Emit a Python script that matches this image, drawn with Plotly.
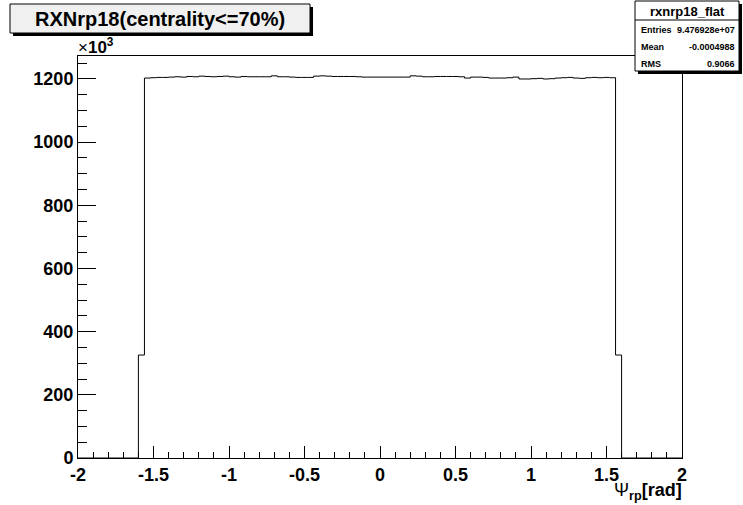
import plotly.graph_objects as go

# ---------------- data (counts in units of 10^3) ----------------
bin_low = -2.0
bin_width = 0.04
edge_counts = [326, 326]  # partially filled bins at -1.6..-1.56 and 1.56..1.6
flat_counts = [
    1203, 1204, 1205, 1205, 1206, 1207, 1206, 1208, 1207, 1209, 1208, 1207, 1208, 1209, 1207, 1206, 1208, 1207,
    1207, 1207, 1207, 1210, 1207, 1207, 1206, 1205, 1205, 1205, 1209, 1210, 1209, 1208, 1208, 1208, 1208, 1207,
    1206, 1206, 1206, 1206, 1206, 1206,
    1206, 1206, 1210, 1209, 1207, 1207, 1208, 1208, 1208, 1208, 1207, 1203, 1206, 1206, 1205, 1203, 1203, 1203,
    1204, 1206, 1200, 1200, 1201, 1202, 1200,
    1201, 1203, 1204, 1205, 1203, 1202, 1204, 1205, 1204, 1205, 1204,
]
empty_left = [0] * 10
empty_right = [0] * 10
counts = empty_left + [edge_counts[0]] + flat_counts + [edge_counts[1]] + empty_right

x_tickvals = [-2, -1.5, -1, -0.5, 0, 0.5, 1, 1.5, 2]
x_ticktext = ["-2", "-1.5", "-1", "-0.5", "0", "0.5", "1", "1.5", "2"]
y_tickvals = [0, 200, 400, 600, 800, 1000, 1200]
y_ticktext = ["0", "200", "400", "600", "800", "1000", "1200"]

title_text = "RXNrp18(centrality<=70%)"
stats_name = "rxnrp18_flat"
stats_rows = [("Entries", "9.476928e+07"), ("Mean", "-0.0004988"), ("RMS", "0.9066")]

# ---------------- figure ----------------
W, H = 743, 505
edges = [bin_low + i * bin_width for i in range(len(counts) + 1)]
ys = counts + [counts[-1]]

FONT = "Liberation Sans"


def px(x):
    return x / W


def py(y):
    return 1 - y / H


fig = go.Figure()
fig.add_trace(go.Scatter(x=edges, y=ys, mode="lines", line=dict(shape="hv", color="black", width=1),
                         hoverinfo="skip", showlegend=False))

fig.update_layout(
    width=W, height=H,
    margin=dict(l=0, r=0, t=0, b=0, autoexpand=False),
    paper_bgcolor="white", plot_bgcolor="white",
    font=dict(family=FONT, color="black"),
    xaxis=dict(domain=[px(78), px(682)], range=[-2, 2], showgrid=False, zeroline=False, automargin=False,
               showline=True, linecolor="black", linewidth=1, mirror=True,
               ticks="inside", ticklen=12, tickcolor="black", tickwidth=1,
               tickvals=x_tickvals, ticktext=x_ticktext,
               tickfont=dict(family=FONT, size=18, weight="bold"),
               minor=dict(ticks="inside", ticklen=6, dtick=0.1, tick0=0, tickcolor="black", showgrid=False)),
    yaxis=dict(domain=[py(458), py(56)], range=[0, 1272.8], showgrid=False, zeroline=False, automargin=False,
               showline=True, linecolor="black", linewidth=1, mirror=True,
               ticks="inside", ticklen=18, tickcolor="black", tickwidth=1,
               tickvals=y_tickvals, ticktext=y_ticktext,
               tickfont=dict(family=FONT, size=18, weight="bold"),
               minor=dict(ticks="inside", ticklen=9, dtick=50, tick0=0, tickcolor="black", showgrid=False)),
)

shapes = []
# title box with shadow
shapes.append(dict(type="rect", xref="paper", yref="paper", x0=px(13), x1=px(313), y0=py(36), y1=py(7),
                   fillcolor="black", line=dict(width=0), layer="above"))
shapes.append(dict(type="rect", xref="paper", yref="paper", x0=px(10), x1=px(310), y0=py(33), y1=py(4),
                   fillcolor="#f0f0f0", line=dict(color="black", width=1), layer="above"))
# stats box with shadow
shapes.append(dict(type="rect", xref="paper", yref="paper", x0=px(638), x1=px(742), y0=py(74), y1=py(4),
                   fillcolor="black", line=dict(width=0), layer="above"))
shapes.append(dict(type="rect", xref="paper", yref="paper", x0=px(635), x1=px(739), y0=py(71), y1=py(1),
                   fillcolor="white", line=dict(color="black", width=1), layer="above"))
shapes.append(dict(type="line", xref="paper", yref="paper", x0=px(635), x1=px(739), y0=py(20), y1=py(20),
                   line=dict(color="black", width=1), layer="above"))
fig.update_layout(shapes=shapes)

ann = []
ann.append(dict(text="<b>" + title_text + "</b>", xref="paper", yref="paper", x=px(160), y=py(19),
                xanchor="center", yanchor="middle", showarrow=False, font=dict(size=20, family=FONT)))
ann.append(dict(text="<b>" + stats_name + "</b>", xref="paper", yref="paper", x=px(687), y=py(11),
                xanchor="center", yanchor="middle", showarrow=False, font=dict(size=13, family=FONT)))
row_y = [30, 47, 64]
for (lab, val), yy in zip(stats_rows, row_y):
    ann.append(dict(text="<b>" + lab + "</b>", xref="paper", yref="paper", x=px(639), y=py(yy),
                    xanchor="left", yanchor="middle", showarrow=False, font=dict(size=9, family=FONT)))
    ann.append(dict(text="<b>" + val + "</b>", xref="paper", yref="paper", x=px(737), y=py(yy),
                    xanchor="right", yanchor="middle", showarrow=False, font=dict(size=9, family=FONT)))
ann.append(dict(text="×<b>10</b><sup><b>3</b></sup>", xref="paper", yref="paper", x=px(76), y=py(46),
                xanchor="left", yanchor="middle", showarrow=False, font=dict(size=17, family=FONT)))
ann.append(dict(text="Ψ<sub><b>rp</b></sub><b>[rad]</b>", xref="paper", yref="paper", x=px(684), y=py(491),
                xanchor="right", yanchor="middle", showarrow=False, font=dict(size=18, family=FONT)))
fig.update_layout(annotations=ann)

fig.write_html("out.html")
